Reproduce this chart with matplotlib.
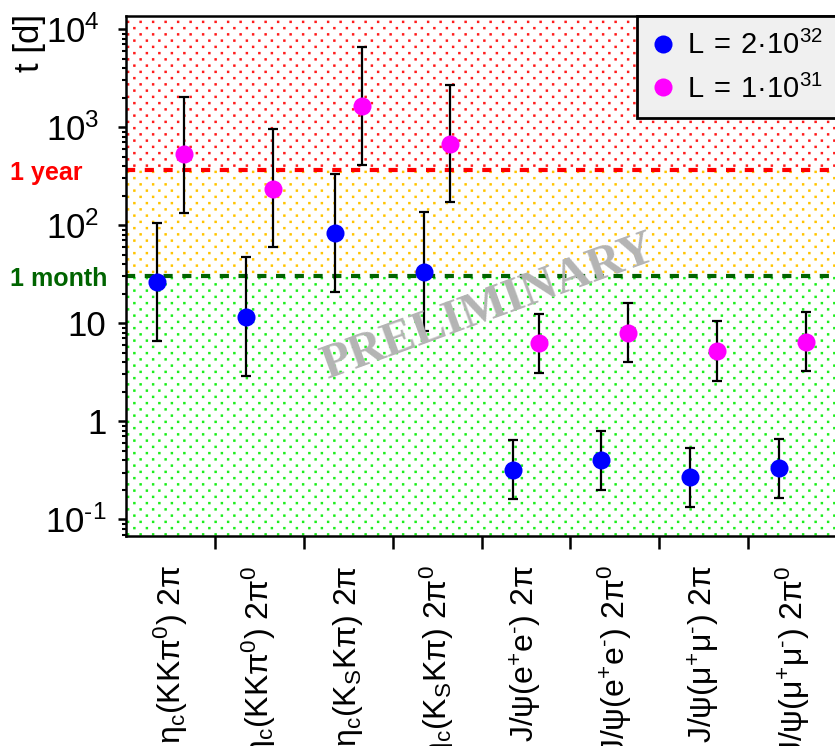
import numpy as np
import matplotlib
matplotlib.use('Agg')
import matplotlib.pyplot as plt
import matplotlib.transforms as mtransforms
import matplotlib.hatch as mhatch
from matplotlib.path import Path
from matplotlib.ticker import LogLocator, NullFormatter, FixedLocator

plt.rcParams['font.family'] = ['Liberation Sans', 'DejaVu Sans']
plt.rcParams['mathtext.fontset'] = 'custom'
plt.rcParams['mathtext.rm'] = 'Liberation Sans'
plt.rcParams['mathtext.it'] = 'Liberation Sans:italic'
plt.rcParams['mathtext.bf'] = 'Liberation Sans:bold'
plt.rcParams['hatch.linewidth'] = 0.75


# staggered dot hatch (rows every 1/16 inch, dots every 1/8 inch in a row)
class StaggeredDots(mhatch.HatchPatternBase):
    rows = 16
    cols = 8
    side = 0.014

    def __init__(self, hatch, density):
        self.on = hatch.count('.') > 0
        self.num_vertices = self.rows * self.cols * 5 if self.on else 0

    def set_vertices_and_codes(self, vertices, codes):
        s = self.side / 2
        sq = np.array([[-s, -s], [s, -s], [s, s], [-s, s], [-s, -s]])
        sc = [Path.MOVETO, Path.LINETO, Path.LINETO, Path.LINETO, Path.CLOSEPOLY]
        i = 0
        for k in range(self.rows):
            yy = (k + 0.5) / self.rows
            for j in range(self.cols):
                xx = (j + 0.25 + 0.5 * (k % 2)) / self.cols
                vertices[i:i + 5] = sq + [xx, yy]
                codes[i:i + 5] = sc
                i += 5


mhatch._hatch_types = [StaggeredDots if t is mhatch.SmallFilledCircles else t
                       for t in mhatch._hatch_types]

# ---------------- data ----------------
categories = [
    r'$\mathregular{η_c(KKπ^0)\ 2π}$',
    r'$\mathregular{η_c(KKπ^0)\ 2π^0}$',
    r'$\mathregular{η_c(K_SKπ)\ 2π}$',
    r'$\mathregular{η_c(K_SKπ)\ 2π^0}$',
    r'$\mathregular{J/ψ(e^{+}e^{‐})\ 2π}$',
    r'$\mathregular{J/ψ(e^{+}e^{‐})\ 2π^0}$',
    r'$\mathregular{J/ψ(μ^{+}μ^{‐})\ 2π}$',
    r'$\mathregular{J/ψ(μ^{+}μ^{‐})\ 2π^0}$',
]

blue_label = r'$\mathregular{L\:=\:2·10^{32}}$'
blue_val = np.array([26.6, 11.7, 84.0, 33.7, 0.32, 0.40, 0.27, 0.33])
blue_lo = np.array([6.66, 2.9, 21.0, 8.4, 0.16, 0.20, 0.135, 0.165])
blue_hi = np.array([106.0, 47.0, 336.0, 135.0, 0.64, 0.80, 0.54, 0.66])

mag_label = r'$\mathregular{L\:=\:1·10^{31}}$'
mag_val = np.array([537.0, 236.0, 1660.0, 680.0, 6.35, 8.0, 5.25, 6.5])
mag_lo = np.array([134.0, 60.0, 415.0, 174.0, 3.1, 4.0, 2.6, 3.25])
mag_hi = np.array([2050.0, 948.0, 6640.0, 2720.0, 12.5, 16.0, 10.5, 13.0])

YEAR = 365.0
MONTH = 30.0

ytick_vals = [0.1, 1, 10, 100, 1000, 10000]
ytick_labels = [r'$\mathregular{10^{‐1}}$', '1', '10',
                r'$\mathregular{10^{2}}$', r'$\mathregular{10^{3}}$',
                r'$\mathregular{10^{4}}$']

# ---------------- figure ----------------
W, H = 835, 746
fig = plt.figure(figsize=(W / 100, H / 100), dpi=100)
ax = fig.add_axes([126 / W, 1 - 536 / H, (837 - 126) / W, (536 - 16) / H])
ax.set_yscale('log')

x = np.arange(len(categories))
bx = x + 0.35
mx = x + 0.65

# background bands (dotted)
ax.axhspan(YEAR, 1e6, facecolor='none', edgecolor='#ff1a1a', hatch='.', lw=0, zorder=0)
ax.axhspan(MONTH, YEAR, facecolor='none', edgecolor='#ffc400', hatch='.', lw=0, zorder=0)
ax.axhspan(1e-4, MONTH, facecolor='none', edgecolor='#1aee1a', hatch='.', lw=0, zorder=0)

ax.axhline(YEAR, color='#ff0000', lw=3, ls=(0, (2.2, 2.3)), zorder=2)
ax.axhline(MONTH, color='#006400', lw=3, ls=(0, (2.2, 2.3)), zorder=2)

ax.errorbar(bx, blue_val, yerr=[blue_val - blue_lo, blue_hi - blue_val], fmt='none',
            ecolor='black', elinewidth=1.6, capsize=3.5, capthick=1.6, zorder=3)
ax.errorbar(mx, mag_val, yerr=[mag_val - mag_lo, mag_hi - mag_val], fmt='none',
            ecolor='black', elinewidth=1.6, capsize=3.5, capthick=1.6, zorder=3)
ax.plot(bx, blue_val, 'o', color='#0000ff', ms=13, mew=0, zorder=4, label=blue_label)
ax.plot(mx, mag_val, 'o', color='#ff00ff', ms=13, mew=0, zorder=4, label=mag_label)

ax.set_xlim(0, len(categories))
ax.set_ylim(0.0676, 13600)

# y ticks
ax.yaxis.set_major_locator(FixedLocator(ytick_vals))
ax.set_yticklabels(ytick_labels)
ax.yaxis.set_minor_locator(LogLocator(base=10, subs=np.arange(2, 10), numticks=20))
ax.yaxis.set_minor_formatter(NullFormatter())
ax.tick_params(axis='y', which='major', direction='out', length=6, width=1.8,
               labelsize=25, pad=8)
ax.tick_params(axis='y', which='minor', direction='out', length=3, width=1.5)

# x ticks
ax.set_xticks(np.arange(1, len(categories)))
ax.set_xticklabels([])
ax.set_xticks(x + 0.5, minor=True)
ax.set_xticklabels(categories, minor=True, rotation=90, va='top', ha='center')
ax.tick_params(axis='x', which='major', direction='out', length=9.5, width=1.8)
ax.tick_params(axis='x', which='minor', length=0, pad=21, labelsize=23)

# shift the superscripted upper decade labels a little to the left
shift = mtransforms.ScaledTranslation(-7 / 100, 0, fig.dpi_scale_trans)
for val, tick in zip(ytick_vals, ax.yaxis.get_major_ticks()):
    if val >= 100:
        tick.label1.set_transform(tick.label1.get_transform() + shift)

for s in ['left', 'bottom', 'top']:
    ax.spines[s].set_linewidth(1.8)
ax.spines['right'].set_visible(False)

# labels
fig.text(30 / W, 1 - 14 / H, 't [d]', rotation=90, ha='center', va='top', fontsize=25)
trans = mtransforms.blended_transform_factory(fig.transFigure, ax.transData)
ax.text(10 / W, YEAR, '1 year', transform=trans, color='#ff0000', fontsize=18,
        fontweight='bold', ha='left', va='center_baseline', clip_on=False)
ax.text(10 / W, MONTH, '1 month', transform=trans, color='#006400', fontsize=18,
        fontweight='bold', ha='left', va='center_baseline', clip_on=False)

fig.text(488 / W, 1 - 308 / H, 'PRELIMINARY', rotation=20, rotation_mode='anchor',
         ha='center', va='center', fontsize=35, family='Liberation Serif',
         fontweight='bold', color='#b4b4b4', zorder=10)

leg = ax.legend(loc='upper right', borderaxespad=0, fontsize=21, frameon=True,
                fancybox=False, framealpha=1, facecolor='#f0f0f0', edgecolor='black',
                handlelength=0.8, handletextpad=0.4, borderpad=0.5, labelspacing=0.5)
leg.get_frame().set_linewidth(2)
leg.set_zorder(11)

fig.savefig('out.png', dpi=100)
